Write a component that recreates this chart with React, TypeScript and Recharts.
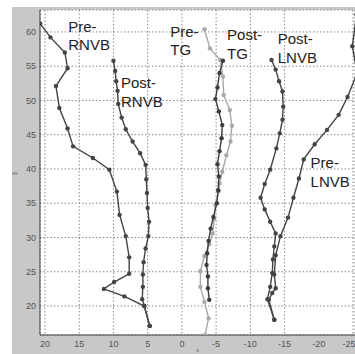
import { CartesianGrid, ReferenceDot, Scatter, ScatterChart, XAxis, YAxis } from 'recharts'

// depth profiles: x value at each level (y)
const preRnvbX = [20.7, 19.2, 17.1, 16.7, 18.4, 17.9, 16.7, 15.9, 13.0, 10.6, 9.5, 9.1, 8.2, 7.7, 7.7, 9.9, 11.4, 8.4, 5.5, 4.7]
const preRnvbY = [61.2, 59.2, 57.0, 54.7, 52.1, 48.9, 45.9, 43.3, 41.6, 39.9, 36.7, 33.3, 30.2, 27.1, 24.7, 23.5, 22.5, 21.4, 20.0, 17.1]

const postRnvbX = [10.0, 9.75, 9.6, 9.4, 9.3, 8.8, 8.2, 7.2, 6.1, 5.3, 5.2, 5.1, 5.0, 4.8, 4.9, 5.3, 5.6, 5.7, 5.7, 5.8, 5.5, 4.7]
const postRnvbY = [55.8, 54.3, 52.8, 51.4, 49.5, 47.5, 45.8, 44.0, 42.3, 40.6, 38.5, 36.5, 34.3, 32.3, 30.2, 28.4, 26.4, 24.6, 22.8, 21.0, 20.0, 17.1]

const preTgX = [-3.3, -4.1, -5.6, -6.0, -6.1, -7.0, -7.3, -7.1, -6.5, -5.9, -5.5, -5.4, -4.9, -4.7, -4.5, -4.0, -3.3, -2.7, -2.7, -3.3, -3.9, -3.4]
const preTgY = [60.4, 57.6, 55.9, 53.5, 50.8, 48.6, 46.3, 44.0, 42.0, 39.6, 37.9, 36.8, 34.7, 32.7, 30.6, 29.0, 27.3, 25.1, 22.8, 20.6, 18.2, 15.8]

const postTgX = [-6.0, -5.5, -5.2, -4.9, -5.4, -5.9, -5.8, -5.5, -5.2, -5.4, -5.3, -5.1, -4.6, -4.2, -3.9, -3.7, -3.6, -3.8, -3.8, -4.0]
const postTgY = [55.8, 54.0, 51.9, 50.2, 48.4, 46.4, 44.5, 42.6, 40.7, 38.9, 36.9, 35.0, 33.0, 31.3, 29.5, 27.7, 26.0, 24.3, 22.6, 20.9]

const postLnvbX = [-13.1, -13.7, -14.2, -14.7, -14.8, -14.7, -14.3, -13.8, -12.9, -12.1, -11.5, -12.1, -12.9, -13.7, -13.5, -13.3, -13.2, -12.9, -12.5, -13.5]
const postLnvbY = [55.9, 54.5, 52.8, 51.3, 49.1, 47.2, 45.2, 43.0, 39.9, 37.8, 35.8, 34.1, 32.3, 30.6, 28.7, 26.8, 24.8, 22.8, 21.0, 18.0]

const preLnvbX = [-25.5, -24.9, -25.6, -24.2, -22.9, -21.2, -19.4, -17.8, -17.1, -16.3, -15.5, -14.4, -13.7, -13.5, -13.7, -13.2, -12.7, -13.5]
const preLnvbY = [62.5, 57.9, 54.0, 50.5, 47.9, 45.7, 43.6, 41.4, 38.6, 35.8, 32.9, 30.2, 27.4, 24.6, 22.6, 21.9, 20.9, 18.0]

const xTicks = [20, 15, 10, 5, 0, -5, -10, -15, -20, -25]
const yTicks = [20, 25, 30, 35, 40, 45, 50, 55, 60]

// series labels, anchored at first-line baseline
const labelLines = [['Pre-', 'RNVB'], ['Post-', 'RNVB'], ['Pre-', 'TG'], ['Post-', 'TG'], ['Post-', 'LNVB'], ['Pre-', 'LNVB']]
const labelX = [16.6, 8.9, 1.7, -6.6, -14.0, -18.8]
const labelY = [60.0, 51.8, 59.3, 58.8, 58.2, 40.1]

const zip = (xs: number[], ys: number[]) => xs.map((x, i) => ({ x, y: ys[i] }))

const series = [
  { name: 'preRnvb', data: zip(preRnvbX, preRnvbY), color: '#444' },
  { name: 'postRnvb', data: zip(postRnvbX, postRnvbY), color: '#444' },
  { name: 'preTg', data: zip(preTgX, preTgY), color: '#a9a9a9' },
  { name: 'postTg', data: zip(postTgX, postTgY), color: '#3c3c3c' },
  { name: 'postLnvb', data: zip(postLnvbX, postLnvbY), color: '#444' },
  { name: 'preLnvb', data: zip(preLnvbX, preLnvbY), color: '#444' },
]

const tickStyle = { fontSize: 9, fill: '#555', fontFamily: 'Liberation Sans, Arial, sans-serif' }

function TwoLineLabel({ viewBox, lines }: any) {
  const { x, y } = viewBox
  return (
    <text x={x} y={y} fontSize={15} fill="#222" fontFamily="Liberation Sans, Arial, sans-serif">
      <tspan x={x} dy={0}>{lines[0]}</tspan>
      <tspan x={x} dy={18.5}>{lines[1]}</tspan>
    </text>
  )
}

export default function App() {
  return (
    <div style={{ position: 'absolute', left: 0, top: 0, width: 355, height: 354, background: '#fff', overflow: 'hidden' }}>
      <div style={{ position: 'absolute', left: 12, top: 7, width: 343, height: 347, background: '#c8c8c8' }} />
      <div style={{ position: 'absolute', left: 0, top: 0 }}>
        <ScatterChart width={355} height={354} margin={{ top: 10, right: 0, bottom: 0, left: 0 }}>
          <CartesianGrid fill="#fff" stroke="#8a8a8a" strokeDasharray="1.5 2" />
          <XAxis
            type="number"
            dataKey="x"
            domain={[-25.29, 20.73]}
            reversed
            allowDataOverflow
            ticks={xTicks}
            tick={tickStyle}
            tickLine={false}
            tickSize={2}
            tickMargin={4}
            height={19}
            axisLine={{ stroke: '#444' }}
            label={{ value: 's', position: 'insideBottom', offset: 2, fontSize: 7, fill: '#666' }}
          />
          <YAxis
            type="number"
            dataKey="y"
            domain={[15.77, 63.2]}
            allowDataOverflow
            ticks={yTicks}
            tick={tickStyle}
            tickLine={false}
            tickSize={2}
            tickMargin={2}
            width={40}
            axisLine={{ stroke: '#444' }}
            label={{ value: 'ss', position: 'insideLeft', offset: 12, fontSize: 7, fill: '#666' }}
          />
          {series.map((s) => (
            <Scatter
              key={s.name}
              data={s.data}
              isAnimationActive={false}
              line={{ stroke: s.color, strokeWidth: 1.4 }}
              shape={(p: any) => <circle cx={p.cx} cy={p.cy} r={2.2} fill={s.color} />}
            />
          ))}
          {labelLines.map((lines, i) => (
            <ReferenceDot
              key={i}
              x={labelX[i]}
              y={labelY[i]}
              r={0}
              fill="none"
              stroke="none"
              label={<TwoLineLabel lines={lines} />}
            />
          ))}
        </ScatterChart>
      </div>
    </div>
  )
}
